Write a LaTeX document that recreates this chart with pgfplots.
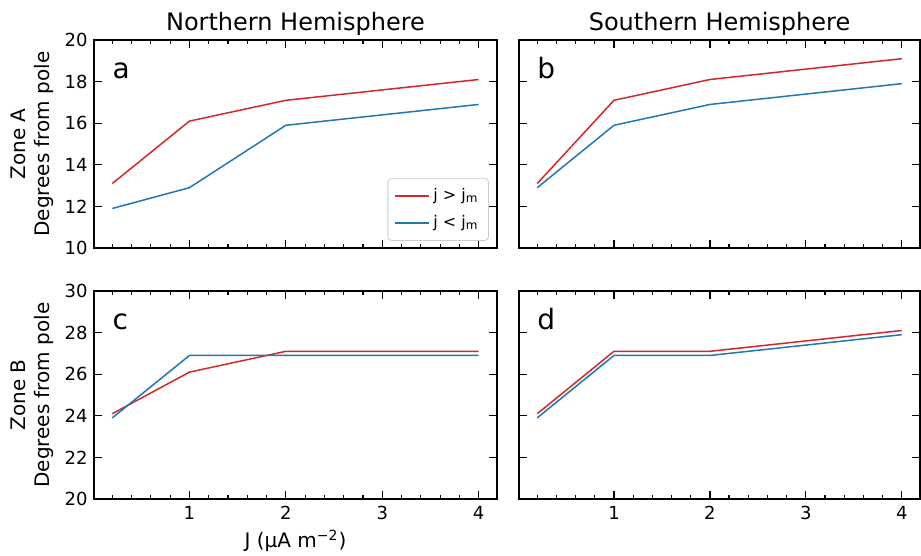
\documentclass[border=0pt]{standalone}
\usepackage{fontspec}
\setmainfont{DejaVu Sans}
\usepackage{pgfplots}
\pgfplotsset{compat=1.18}
\definecolor{tabred}{HTML}{D62728}
\definecolor{tabblue}{HTML}{1F77B4}
\pgfplotsset{
  every axis title shift=0pt,
  panel/.style={
    scale only axis, width=201.5pt, height=104pt,
    xmin=0.01, xmax=4.19,
    xtick={1,2,3,4},
    minor xtick={0.2,0.4,0.6,0.8,1.2,1.4,1.6,1.8,2.2,2.4,2.6,2.8,3.2,3.4,3.6,3.8},
    tick pos=both, tick align=inside,
    major tick length=4pt, minor tick length=2pt,
    every tick/.style={black, line width=0.6pt},
    axis line style={line width=0.9pt},
    /pgf/number format/assume math mode=true,
    tick label style={font=\fontsize{9}{11}\selectfont},
    xticklabel style={anchor=base, yshift=-10.5pt},
    yticklabel style={anchor=east, inner sep=0pt, xshift=-3pt},
    ylabel style={at={(rel axis cs:0,0.5)}, anchor=south, yshift=20pt, inner sep=0pt, align=center, font=\fontsize{10}{12}\selectfont},
    xlabel style={at={(rel axis cs:0.5,0)}, anchor=base, yshift=-24.5pt, inner sep=0pt, font=\fontsize{10}{12}\selectfont},
    title style={at={(rel axis cs:0.5,1)}, anchor=base, yshift=4.5pt, inner sep=0pt, font=\fontsize{12}{14}\selectfont},
    every axis plot/.append style={line width=0.75pt, no marks},
  },
  toprow/.style={ymin=10, ymax=20, ytick={10,12,14,16,18,20}, xticklabels={}},
  botrow/.style={ymin=20, ymax=30, ytick={20,22,24,26,28,30}},
  rightcol/.style={yticklabels={}},
}
\newcommand{\panellabel}[1]{\node[anchor=base west, inner sep=0pt, font=\fontsize{14}{16}\selectfont] at (rel axis cs:0.045,0.817) {#1};}
\begin{document}
\begin{tikzpicture}
\path[use as bounding box] (0pt,0pt) rectangle (460.5pt,278pt);
% a
\begin{axis}[panel, toprow, at={(47pt,154pt)}, anchor=south west,
  title={Northern Hemisphere},
  ylabel={Zone A\\Degrees from pole},
  legend style={at={(0.98,0.034)}, anchor=south east, draw=black!20, rounded corners=2pt,
    font=\fontsize{8}{10}\selectfont, row sep=2pt, inner xsep=3pt, inner ysep=3pt},
  legend cell align=left,
  legend image code/.code={\draw[#1] (0pt,0pt) -- (17pt,0pt);}]
\addplot[tabred] coordinates {(0.2,13.1) (1,16.1) (2,17.1) (4,18.1)};
\addlegendentry{j > j\textsubscript{m}}
\addplot[tabblue] coordinates {(0.2,11.9) (1,12.9) (2,15.9) (4,16.9)};
\addlegendentry{j < j\textsubscript{m}}
\panellabel{a}
\end{axis}
% b
\begin{axis}[panel, toprow, rightcol, at={(259.5pt,154pt)}, anchor=south west, width=200.5pt,
  title={Southern Hemisphere}]
\addplot[tabred] coordinates {(0.2,13.1) (1,17.1) (2,18.1) (4,19.1)};
\addplot[tabblue] coordinates {(0.2,12.9) (1,15.9) (2,16.9) (4,17.9)};
\panellabel{b}
\end{axis}
% c
\begin{axis}[panel, botrow, at={(47pt,28.5pt)}, anchor=south west,
  ylabel={Zone B\\Degrees from pole},
  xlabel={J (μA m\textsuperscript{−2})}]
\addplot[tabred] coordinates {(0.2,24.1) (1,26.1) (2,27.1) (4,27.1)};
\addplot[tabblue] coordinates {(0.2,23.9) (1,26.9) (2,26.9) (4,26.9)};
\panellabel{c}
\end{axis}
% d
\begin{axis}[panel, botrow, rightcol, at={(259.5pt,28.5pt)}, anchor=south west, width=200.5pt]
\addplot[tabred] coordinates {(0.2,24.1) (1,27.1) (2,27.1) (4,28.1)};
\addplot[tabblue] coordinates {(0.2,23.9) (1,26.9) (2,26.9) (4,27.9)};
\panellabel{d}
\end{axis}
\end{tikzpicture}
\end{document}
